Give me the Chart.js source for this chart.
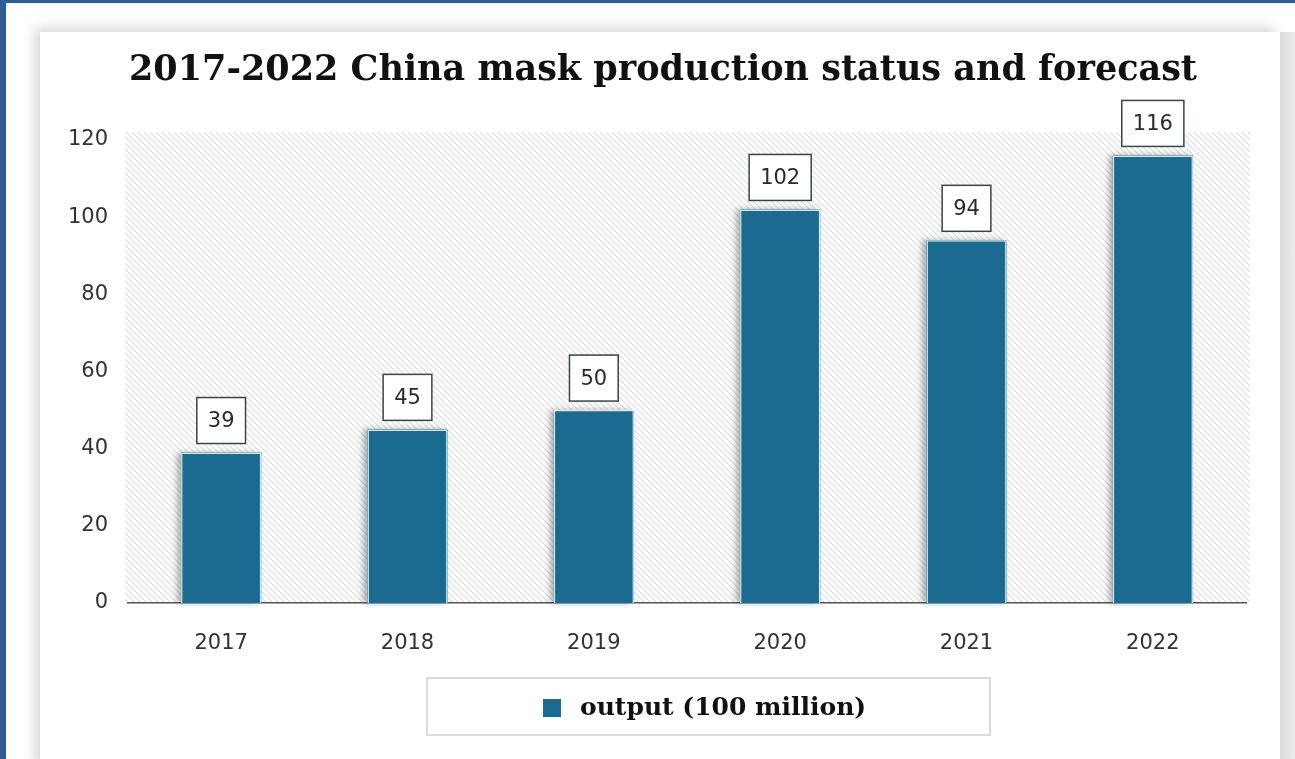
<!DOCTYPE html>
<html>
<head>
<meta charset="utf-8">
<script src="https://cdn.jsdelivr.net/npm/chart.js@4.4.1/dist/chart.umd.min.js"></script>
<style>
  html, body { margin: 0; padding: 0; }
  body { width: 1295px; height: 759px; background: #2e5d94; position: relative; overflow: hidden; }
  #panel { position: absolute; left: 6px; top: 3px; right: 0; bottom: 0; background: #ffffff; }
  #card { position: absolute; left: 40px; top: 32px; width: 1240px; height: 740px; background: #ffffff;
          box-shadow: -5px -4px 12px rgba(0,0,0,0.16); }
  #strip { position: absolute; left: 1280px; top: 32px; width: 15px; bottom: 0;
           background: linear-gradient(to right, #dcdcdc, #ececec); }
  #c { position: absolute; left: 0; top: 0; }
</style>
</head>
<body>
<div id="panel"></div>
<div id="card"></div>
<div id="strip"></div>
<canvas id="c" width="1295" height="759"></canvas>
<script>
// ---- data ----
const titleText = '2017-2022 China mask production status and forecast';
const categories = ['2017', '2018', '2019', '2020', '2021', '2022'];
const outputValues = [39, 45, 50, 102, 94, 116];
const seriesLabel = 'output (100 million)';
const yMin = 0;
const yMax = 120;
const yStep = 20;

const barColor = '#1b6a8f';

// hatch pattern for plot background
function makeHatch() {
  const s = 6;
  const pc = document.createElement('canvas');
  pc.width = s; pc.height = s;
  const p = pc.getContext('2d');
  p.fillStyle = '#ffffff';
  p.fillRect(0, 0, s, s);
  p.strokeStyle = '#dcdcdc';
  p.lineWidth = 1.1;
  p.beginPath();
  p.moveTo(-1, -1); p.lineTo(s + 1, s + 1);
  p.moveTo(-1, s - 1); p.lineTo(1, s + 1);
  p.moveTo(s - 1, -1); p.lineTo(s + 1, 1);
  p.stroke();
  return pc;
}

const hatchPlugin = {
  id: 'hatchBg',
  beforeDraw(chart) {
    const { ctx, chartArea: a } = chart;
    ctx.save();
    ctx.fillStyle = ctx.createPattern(makeHatch(), 'repeat');
    ctx.fillRect(a.left - 3, a.top - 8, a.right - a.left + 7, a.bottom - a.top + 8);
    ctx.restore();
  }
};

const titlePlugin = {
  id: 'centeredTitle',
  afterDraw(chart) {
    const { ctx } = chart;
    ctx.save();
    ctx.font = 'bold 35px "DejaVu Serif"';
    ctx.fillStyle = '#111111';
    ctx.textAlign = 'center';
    ctx.textBaseline = 'middle';
    ctx.fillText(titleText, 663, 71);
    ctx.restore();
  }
};

const barShadowPlugin = {
  id: 'barShadow',
  beforeDatasetsDraw(chart) {
    const { ctx } = chart;
    const meta = chart.getDatasetMeta(0);
    ctx.save();
    ctx.shadowColor = 'rgba(0,0,0,0.30)';
    ctx.shadowBlur = 6;
    ctx.shadowOffsetX = -4;
    ctx.shadowOffsetY = 0;
    ctx.fillStyle = barColor;
    meta.data.forEach(bar => {
      const p = bar.getProps(['x', 'y', 'base', 'width'], true);
      ctx.fillRect(p.x - p.width / 2, p.y, p.width, p.base - p.y);
    });
    ctx.restore();
  }
};

const labelBoxPlugin = {
  id: 'labelBoxes',
  afterDatasetsDraw(chart) {
    const { ctx } = chart;
    const meta = chart.getDatasetMeta(0);
    const ds = chart.data.datasets[0];
    ctx.save();
    ctx.font = '21px "DejaVu Sans"';
    ctx.textAlign = 'center';
    ctx.textBaseline = 'middle';
    meta.data.forEach((bar, i) => {
      const txt = String(ds.data[i]);
      const w = ctx.measureText(txt).width + 22;
      const h = 46;
      const bottom = bar.y - 9;
      const left = bar.x - w / 2;
      ctx.fillStyle = 'rgba(255,255,255,0.96)';
      ctx.fillRect(left, bottom - h, w, h);
      ctx.strokeStyle = '#34444c';
      ctx.lineWidth = 1.5;
      ctx.strokeRect(left, bottom - h, w, h);
      ctx.fillStyle = '#2a2a2a';
      ctx.fillText(txt, bar.x, bottom - h / 2 + 1);
    });
    ctx.restore();
  }
};

const legendPlugin = {
  id: 'boxLegend',
  afterDraw(chart) {
    const { ctx } = chart;
    const ds = chart.data.datasets[0];
    const boxL = 427, boxT = 678, boxW = 563, boxH = 57;
    ctx.save();
    ctx.fillStyle = '#ffffff';
    ctx.fillRect(boxL, boxT, boxW, boxH);
    ctx.strokeStyle = '#cfcfcf';
    ctx.lineWidth = 1.5;
    ctx.strokeRect(boxL, boxT, boxW, boxH);
    ctx.font = 'bold 25px "DejaVu Serif"';
    const tw = ctx.measureText(ds.label).width;
    const sq = 18, gap = 19;
    const x0 = 543, cy = 708;
    ctx.fillStyle = ds.backgroundColor;
    ctx.fillRect(x0, cy - sq / 2, sq, sq);
    ctx.fillStyle = '#111111';
    ctx.textAlign = 'left';
    ctx.textBaseline = 'middle';
    ctx.fillText(ds.label, x0 + sq + gap, cy);
    ctx.restore();
  }
};

new Chart(document.getElementById('c'), {
  type: 'bar',
  data: {
    labels: categories,
    datasets: [{
      label: seriesLabel,
      data: outputValues,
      backgroundColor: barColor,
      borderColor: '#cdeef6',
      borderWidth: 1.5,
      borderSkipped: 'bottom',
      categoryPercentage: 1.0,
      barPercentage: 0.43
    }]
  },
  options: {
    responsive: false,
    devicePixelRatio: 1,
    animation: false,
    layout: { padding: { left: 10, right: 49, top: 140, bottom: 81 } },
    plugins: {
      legend: { display: false },
      tooltip: { enabled: false },
      title: { display: false }
    },
    scales: {
      x: {
        grid: { display: false, drawTicks: false },
        border: { display: true, color: '#555555', width: 1.5 },
        ticks: { color: '#333333', font: { family: '"DejaVu Sans"', size: 21 }, padding: 28, maxRotation: 0 },
        afterFit(scale) { scale.height = 75; }
      },
      y: {
        min: yMin,
        max: yMax,
        grid: { display: false, drawTicks: false },
        border: { display: false },
        ticks: { stepSize: yStep, color: '#333333', font: { family: '"DejaVu Sans"', size: 21 }, padding: 20 },
        afterFit(scale) { scale.width = 118; }
      }
    }
  },
  plugins: [hatchPlugin, barShadowPlugin, labelBoxPlugin, legendPlugin, titlePlugin]
});
</script>
</body>
</html>
